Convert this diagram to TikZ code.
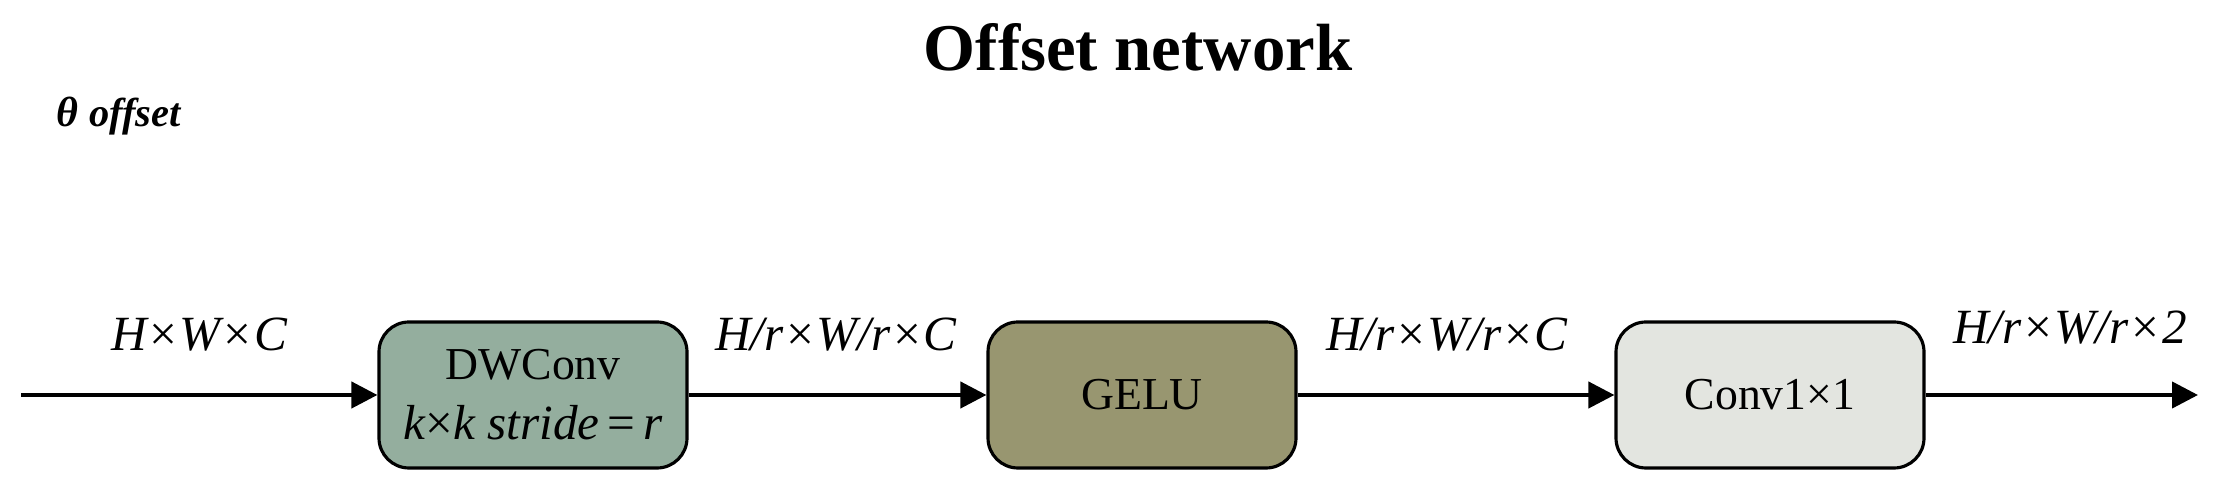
\documentclass[tikz,border=0pt]{standalone}
\usepackage{fontspec}
\setmainfont{Liberation Serif}
\usetikzlibrary{arrows.meta,positioning}
\definecolor{dwFill}{RGB}{148,174,158}
\definecolor{geluFill}{RGB}{152,150,112}
\definecolor{convFill}{RGB}{227,229,224}

\begin{document}
\begin{tikzpicture}[
  blockbox/.style={draw, line width=0.9pt, rounded corners=0.3cm, minimum width=3.08cm, minimum height=1.46cm, align=center, font=\fontsize{13}{17}\selectfont},
  flow/.style={line width=1.2pt, -{Triangle[length=0.26cm,width=0.26cm]}},
  dimlbl/.style={anchor=base, font=\fontsize{14}{16}\selectfont\itshape}]
  \useasboundingbox (0,0) rectangle (22.31,4.91);
  \node[anchor=base, font=\fontsize{19}{22}\selectfont\bfseries] (title) at (11.38,4.20) {Offset network};
  \node[anchor=base west, inner sep=0pt, font=\fontsize{12}{14}\selectfont\bfseries\itshape] (theta) at (0.56,3.64) {θ {\fontsize{11.5}{13}\selectfont offset}};
  \coordinate (in) at (0.21,0.96);
  \coordinate (out) at (21.98,0.96);
  \node[blockbox, fill=dwFill] (dwconv) at (5.33,0.96) {DWConv\\[0pt]{\fontsize{14}{17}\selectfont\textit{k}×\textit{k stride}\,=\,\textit{r}}};
  \node[blockbox, fill=geluFill] (gelu) at (11.42,0.96) {GELU};
  \node[blockbox, fill=convFill] (conv) at (17.70,0.96) {Conv1×1};
  \draw[flow] (in) -- (dwconv);
  \draw[flow] (dwconv) -- (gelu);
  \draw[flow] (gelu) -- (conv);
  \draw[flow] (conv) -- (out);
  \node[dimlbl] (d0) at (1.99,1.40) {H×W×C};
  \node[dimlbl] (d1) at (8.36,1.40) {H/r×W/r×C};
  \node[dimlbl] (d2) at (14.47,1.40) {H/r×W/r×C};
  \node[dimlbl] (d3) at (20.70,1.47) {H/r×W/r×2};
\end{tikzpicture}
\end{document}
